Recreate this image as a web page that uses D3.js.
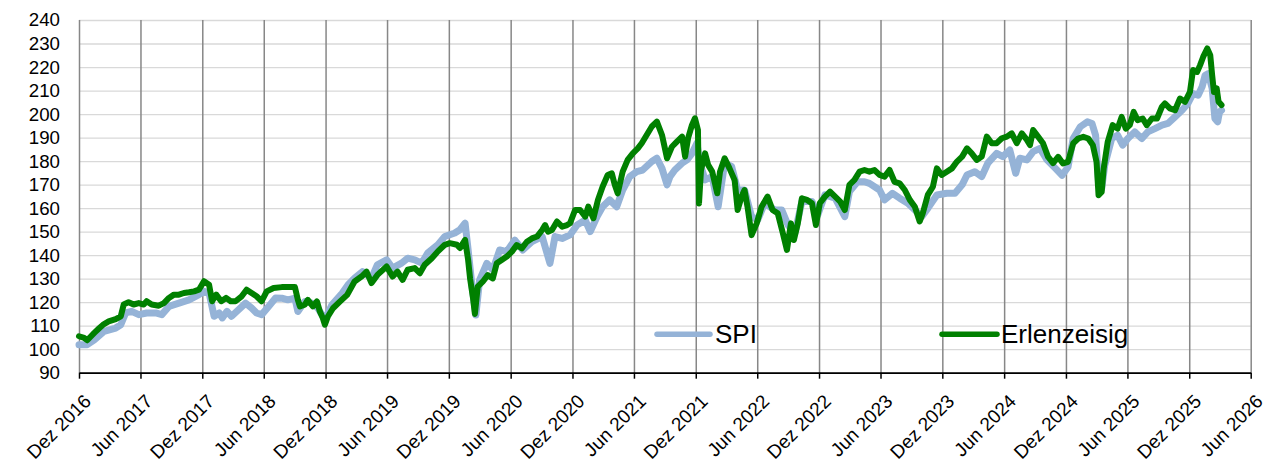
<!DOCTYPE html>
<html><head><meta charset="utf-8">
<script src="https://cdn.jsdelivr.net/npm/d3@7"></script>
<style>
body{margin:0;background:#fff}
svg{display:block}
text{font-family:Arial,"Liberation Sans",sans-serif;fill:#000}
</style>
</head><body>
<svg id="chart" width="1266" height="463"></svg>
<script>
// ---- data (months since 1 Dec 2016, index values) ----
const seriesNames = ["SPI", "Erlenzeisig"];
const yTickValues = [90,100,110,120,130,140,150,160,170,180,190,200,210,220,230,240];
const monthLabels = {11: "Dez", 5: "Jun"};

const spiT = [0,0.78,1.46,2.43,3.60,4.09,4.57,5.16,5.84,6.61,7.49,8.07,8.75,9.73,10.70,11.67,12.16,12.65,13.13,13.62,13.91,14.40,14.88,15.56,16.24,16.83,17.31,17.80,18.48,19.16,19.75,20.33,21.01,21.30,21.98,22.66,23.25,23.93,24.61,25.58,26.17,26.85,27.62,28.50,29.08,29.96,30.54,31.42,32.00,32.68,33.36,33.95,34.92,35.60,36.57,37.06,37.55,37.84,38.23,38.62,39.00,39.69,40.27,40.95,41.63,42.41,43.19,44.06,45.04,45.81,46.30,46.98,47.76,48.44,49.22,49.70,50.39,50.97,51.65,52.33,52.92,53.60,54.28,54.86,55.74,56.22,56.71,57.20,57.49,57.97,58.66,59.14,59.63,60.11,60.40,60.89,61.57,62.15,62.84,63.52,64.10,64.78,65.46,66.05,66.73,67.70,68.38,68.97,69.65,70.33,71.30,71.88,72.56,73.54,74.51,75.00,75.77,76.45,76.94,77.91,78.40,79.18,79.86,80.64,81.51,82.00,82.58,83.46,84.43,85.21,85.89,86.38,87.16,87.83,88.42,89.29,89.88,90.56,91.14,91.53,92.21,92.80,93.47,94.16,94.94,95.62,96.20,96.69,97.37,98.05,98.54,98.92,99.21,99.51,99.80,100.48,101.06,101.55,102.04,102.72,103.40,103.98,104.66,105.34,105.93,106.61,107.29,107.87,108.36,108.85,109.23,109.52,109.82,110.21,110.50,110.79,110.99,111.18];
const spiV = [101.9,101.9,104,107.6,109,110.4,115.4,116.1,114.7,115.4,115.4,114.7,118.2,119.6,121,123.2,124.6,123.9,114,115.4,113.3,116.1,114,116.8,119.6,117.5,115.4,114.7,118.2,121.8,121.7,121,121.7,116,120.3,119.6,117.4,112.5,118.9,123.8,127.4,130.2,133,130.2,135.9,138,134.5,136.6,138.7,138,136.6,140.9,144.4,147.9,149.4,150.8,153.6,142.3,126.7,114.5,129.4,136.5,133.7,142.2,141.5,146.4,142.2,145.7,147.9,136.5,147.9,147.1,148.6,152.8,154.9,150,156.4,160.6,163.5,160.6,167.7,173.4,175.5,176.2,179.8,181.2,176.9,169.9,173.4,176.2,179.1,180.5,183.3,187.6,179.1,172,173.4,160.6,179.1,177.7,167.7,167.7,156.4,155,162.1,159.2,159.2,152.8,149.3,162.8,162.8,157.1,165.6,164.2,156.4,167,171.2,171.2,170.5,167.7,163.5,166.3,164.2,162.1,158.5,156.4,159.9,165.6,166.3,166.3,169.9,174.1,175.5,173.4,179.1,183.3,181.9,184.7,174.8,181.2,180.5,184,185.4,180.5,177,174,177.5,189.6,194.6,196.7,196,191,171.2,168.3,178.2,189.6,191,186.8,189.6,192.4,189.6,192.4,193.8,195.3,196,198.8,201.6,204.5,208.7,208,211.6,216.5,217.2,210.9,198.1,196.7,200.9,201.6];

const erlT = [0,0.49,0.78,1.46,1.95,2.43,2.92,3.60,4.09,4.38,4.86,5.35,5.84,6.32,6.61,7.10,7.78,8.27,8.75,9.24,9.73,10.21,10.70,11.19,11.67,12.16,12.65,12.94,13.33,13.81,14.30,14.79,15.27,15.86,16.34,16.83,17.31,17.80,18.29,18.97,19.75,20.33,21.01,21.30,21.50,21.98,22.27,22.76,23.15,23.44,23.73,23.93,24.22,24.71,25.39,26.07,26.85,27.53,28.01,28.50,29.08,29.96,30.54,31.03,31.52,32.00,32.68,33.17,33.65,34.34,34.92,35.60,36.09,36.77,37.06,37.55,37.84,38.03,38.32,38.52,38.81,39.30,39.78,40.27,40.66,41.14,41.63,42.12,42.60,43.09,43.58,44.06,44.55,45.04,45.33,45.62,46.01,46.49,46.98,47.47,47.76,48.25,48.73,49.22,49.51,50.00,50.48,50.97,51.46,51.85,52.14,52.43,52.92,53.40,53.89,54.38,54.77,55.25,55.74,56.22,56.71,57.20,57.68,58.17,58.66,58.95,59.24,59.63,59.92,60.21,60.31,60.50,60.89,61.18,61.57,62.06,62.35,62.84,63.32,63.81,64.10,64.49,64.78,65.07,65.46,65.95,66.43,67.02,67.50,67.99,68.48,68.87,69.26,69.55,69.94,70.33,70.81,71.30,71.69,72.08,72.56,73.05,73.54,74.02,74.51,75.00,75.48,75.97,76.45,76.94,77.43,77.91,78.40,78.89,79.37,79.86,80.35,80.83,81.32,81.80,82.10,82.58,83.07,83.46,83.94,84.43,84.92,85.40,85.89,86.38,86.86,87.35,87.83,88.32,88.81,89.29,89.78,90.27,90.75,91.24,91.72,92.21,92.50,92.80,93.28,93.77,94.25,94.74,95.23,95.71,96.20,96.69,97.17,97.66,98.15,98.63,99.02,99.21,99.51,99.70,100.09,100.58,101.06,101.45,101.84,102.23,102.62,103.01,103.49,103.88,104.37,104.86,105.34,105.63,106.12,106.61,107.09,107.58,108.07,108.36,108.75,109.04,109.33,109.72,110.01,110.21,110.40,110.69,110.89,111.18];
const erlV = [105.5,104.8,103.8,106.9,109,110.7,111.8,112.8,114,119,120,119,119.6,119,120.4,119,118.5,119.6,121.8,123.2,123.2,123.9,124.2,124.6,125.3,128.9,127.4,120.4,123.2,120.4,121.8,120.4,120.4,122.5,125.3,123.9,122.5,120.4,124.6,126,126.4,126.4,126.4,121,118.2,118.9,121,118.2,120.3,116,113.2,110.4,113.9,117.4,120.3,123.1,128.8,130.9,133,128.1,131.6,135.2,130.9,133,129.5,133.8,134.5,132.3,135.9,138.7,141.6,144.4,145.1,144.4,143,146.5,138,130,122,115,126.6,128.7,131.5,130.1,136.5,137.9,139.4,141.5,144.3,142.9,145.7,147.1,147.9,150.7,152.8,150,150.7,154.3,152.1,152.8,153.6,159.2,159.2,156.4,160.6,155.7,163.5,169.1,174.1,174.8,169.9,166.3,175.5,180.5,183.3,185.4,187.6,191.1,194.7,196.8,191.1,181.2,186.1,188.3,190.4,181.9,189.7,195.4,198.2,193.2,162,176.2,183.3,178.4,175.5,166.3,175.5,181.2,176.9,171.9,159.2,164.9,167.7,160.6,148.5,153.5,160.6,164.9,159.2,157.8,149.3,142.2,153.5,146.4,153.5,164.2,163.5,162.1,152.8,162.1,164.9,167,164.9,162.8,159.2,169.9,172,175.5,176.2,175.5,176.2,174.1,173.4,176.2,171.2,170.5,167.7,163.5,160.6,154.3,157.8,165.6,169.1,176.9,174.1,175.5,176.9,179.8,181.9,185.4,183.3,180.5,181.9,190.4,187.6,187.6,189.7,190.4,191.8,187.6,191.8,189,186.8,193.2,190.4,187.6,181.9,179.1,181.8,179,179.7,187.5,189.6,190.3,189.6,186.8,179.7,165.5,166.9,176.8,188.2,195.3,193.8,198.8,193.8,195.3,200.9,197.4,198.1,195.3,198.1,198.1,203.1,204.5,202.4,201.6,206.6,205.2,209.4,218.7,217.9,220.8,224.3,227.9,225,216.5,209.4,210.9,205.2,203.8];

// ---- layout ----
const W = 1266, H = 463;
const plot = {left: 79, right: 1250.7, top: 20, bottom: 372.7};
const colors = {SPI: "#95B3D7", Erlenzeisig: "#008000"};

const start = new Date(2016, 11, 1), end = new Date(2026, 5, 1);
function toDate(m) {
  const w = Math.floor(m);
  const d0 = d3.timeMonth.offset(start, w), d1 = d3.timeMonth.offset(start, w + 1);
  return new Date(+d0 + (m - w) * (d1 - d0));
}

const x = d3.scaleTime().domain([start, end]).range([plot.left, plot.right]);
const y = d3.scaleLinear().domain([90, 240]).range([plot.bottom, plot.top]);
const xTicks = d3.timeMonth.range(start, d3.timeDay.offset(end, 1), 6);

const svg = d3.select("#chart");

// horizontal gridlines
svg.append("g")
  .attr("transform", `translate(${plot.left},0)`)
  .call(d3.axisLeft(y).tickValues(yTickValues).tickSize(-(plot.right - plot.left)).tickFormat(""))
  .call(g => g.select(".domain").remove())
  .call(g => g.selectAll("line").attr("stroke", "#D9D9D9").attr("stroke-width", 1.3));

// vertical gridlines
svg.append("g")
  .attr("transform", `translate(0,${plot.bottom})`)
  .call(d3.axisBottom(x).tickValues(xTicks).tickSize(-(plot.bottom - plot.top)).tickFormat(""))
  .call(g => g.select(".domain").remove())
  .call(g => g.selectAll("line").attr("stroke", "#878787").attr("stroke-width", 1.5));

// y labels
svg.append("g")
  .attr("transform", `translate(${plot.left},0)`)
  .call(d3.axisLeft(y).tickValues(yTickValues).tickSize(0).tickPadding(19))
  .call(g => g.select(".domain").remove())
  .call(g => g.selectAll("text").attr("font-size", "18.7px").attr("font-family", "Arial, 'Liberation Sans', sans-serif").attr("fill", "#000"));

// lines
const line = d3.line().x(d => x(d.date)).y(d => y(d.v)).curve(d3.curveLinear);
const spiData = spiT.map((t, i) => ({date: toDate(t), v: spiV[i]}));
const erlData = erlT.map((t, i) => ({date: toDate(t), v: erlV[i]}));

svg.append("path").datum(spiData)
  .attr("d", line).attr("fill", "none").attr("stroke", colors.SPI)
  .attr("stroke-width", 7).attr("stroke-linejoin", "round").attr("stroke-linecap", "round");
svg.append("path").datum(erlData)
  .attr("d", line).attr("fill", "none").attr("stroke", colors.Erlenzeisig)
  .attr("stroke-width", 6).attr("stroke-linejoin", "round").attr("stroke-linecap", "round");

// x axis
svg.append("g")
  .attr("transform", `translate(0,${plot.bottom})`)
  .call(d3.axisBottom(x).tickValues(xTicks).tickSizeInner(6).tickSizeOuter(0)
    .tickFormat(d => monthLabels[d.getMonth()] + " " + d.getFullYear()))
  .call(g => g.select(".domain").attr("stroke", "#000").attr("stroke-width", 1.7))
  .call(g => g.selectAll("line").attr("stroke", "#000").attr("stroke-width", 1.5))
  .call(g => g.selectAll("text")
    .attr("font-size", "19px").attr("font-family", "Arial, 'Liberation Sans', sans-serif").attr("fill", "#000")
    .attr("x", 0).attr("y", 0).attr("dy", "0.35em")
    .attr("text-anchor", "end")
    .attr("transform", "translate(8,25) rotate(-45)"));

// legend
const legendItems = [
  {name: seriesNames[0], x0: 657, x1: 710, tx: 715},
  {name: seriesNames[1], x0: 942, x1: 997, tx: 1001}
];
const lg = svg.append("g");
legendItems.forEach(it => {
  lg.append("line").attr("x1", it.x0).attr("x2", it.x1).attr("y1", 334.3).attr("y2", 334.3)
    .attr("stroke", colors[it.name]).attr("stroke-width", 5.5).attr("stroke-linecap", "round");
  lg.append("text").attr("x", it.tx).attr("y", 343.3).attr("font-size", "26px").text(it.name);
});
</script>
</body></html>
